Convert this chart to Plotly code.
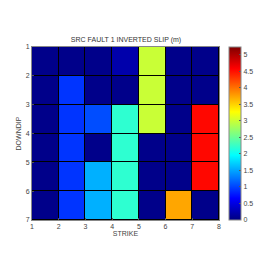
import plotly.graph_objects as go

strike_edges = [1, 2, 3, 4, 5, 6, 7, 8]
downdip_edges = [1, 2, 3, 4, 5, 6, 7]
slip = [
    [0.05, 0.05, 0.05, 0.22, 3.0, 0.05, 0.05],
    [0.05, 0.92, 0.05, 0.05, 3.0, 0.05, 0.05],
    [0.05, 0.92, 1.05, 2.2, 3.0, 0.05, 4.55],
    [0.05, 0.92, 0.05, 2.2, 0.05, 0.05, 4.55],
    [0.05, 0.92, 1.56, 2.2, 0.05, 0.05, 4.55],
    [0.05, 0.92, 1.56, 2.2, 0.05, 3.73, 0.05],
]
cbar_ticks = [0, 0.5, 1, 1.5, 2, 2.5, 3, 3.5, 4, 4.5, 5]

jet = [
    [0.0, "rgb(0,0,128)"],
    [0.125, "rgb(0,0,255)"],
    [0.375, "rgb(0,255,255)"],
    [0.625, "rgb(255,255,0)"],
    [0.875, "rgb(255,0,0)"],
    [1.0, "rgb(128,0,0)"],
]

fig = go.Figure(go.Heatmap(
    x=strike_edges, y=downdip_edges, z=slip,
    zmin=0, zmax=5.24, colorscale=jet,
    xgap=1, ygap=1,
    colorbar=dict(
        thickness=12, len=1, lenmode="fraction", y=0.5, yanchor="middle",
        x=1.053, xanchor="left", xpad=0, ypad=0,
        tickvals=cbar_ticks, ticktext=[f"{t:g}" for t in cbar_ticks],
        ticks="inside", ticklen=2, tickcolor="#555",
        outlinecolor="#888", outlinewidth=1,
        tickfont=dict(size=7, color="#444"),
    ),
))

fig.update_layout(
    width=274, height=274,
    margin=dict(l=32, r=55, t=47, b=54, autoexpand=False),
    paper_bgcolor="white", plot_bgcolor="black",
    font=dict(family="Liberation Sans", size=7, color="#444"),
    title=dict(text="SRC FAULT 1 INVERTED SLIP (m)", x=0.46, xanchor="center",
               y=1 - 40 / 274, yanchor="middle", font=dict(size=7, color="#333")),
)
fig.update_xaxes(
    range=[1, 8], tickvals=strike_edges, ticks="inside", ticklen=2, tickcolor="#555",
    showgrid=False, zeroline=False, showline=True, linecolor="#888", mirror=True,
    automargin=False,
    title=dict(text="STRIKE", standoff=1, font=dict(size=7, color="#444")),
    tickfont=dict(size=7, color="#444"),
)
fig.update_yaxes(
    range=[7, 1], tickvals=downdip_edges, ticks="inside", ticklen=2, tickcolor="#555",
    showgrid=False, zeroline=False, showline=True, linecolor="#888", mirror=True,
    automargin=False,
    title=dict(text="DOWNDIP", standoff=3, font=dict(size=7, color="#444")),
    tickfont=dict(size=7, color="#444"),
)

fig.write_html("out.html", config={"displayModeBar": False},
               post_script="document.body.style.margin='0';")
